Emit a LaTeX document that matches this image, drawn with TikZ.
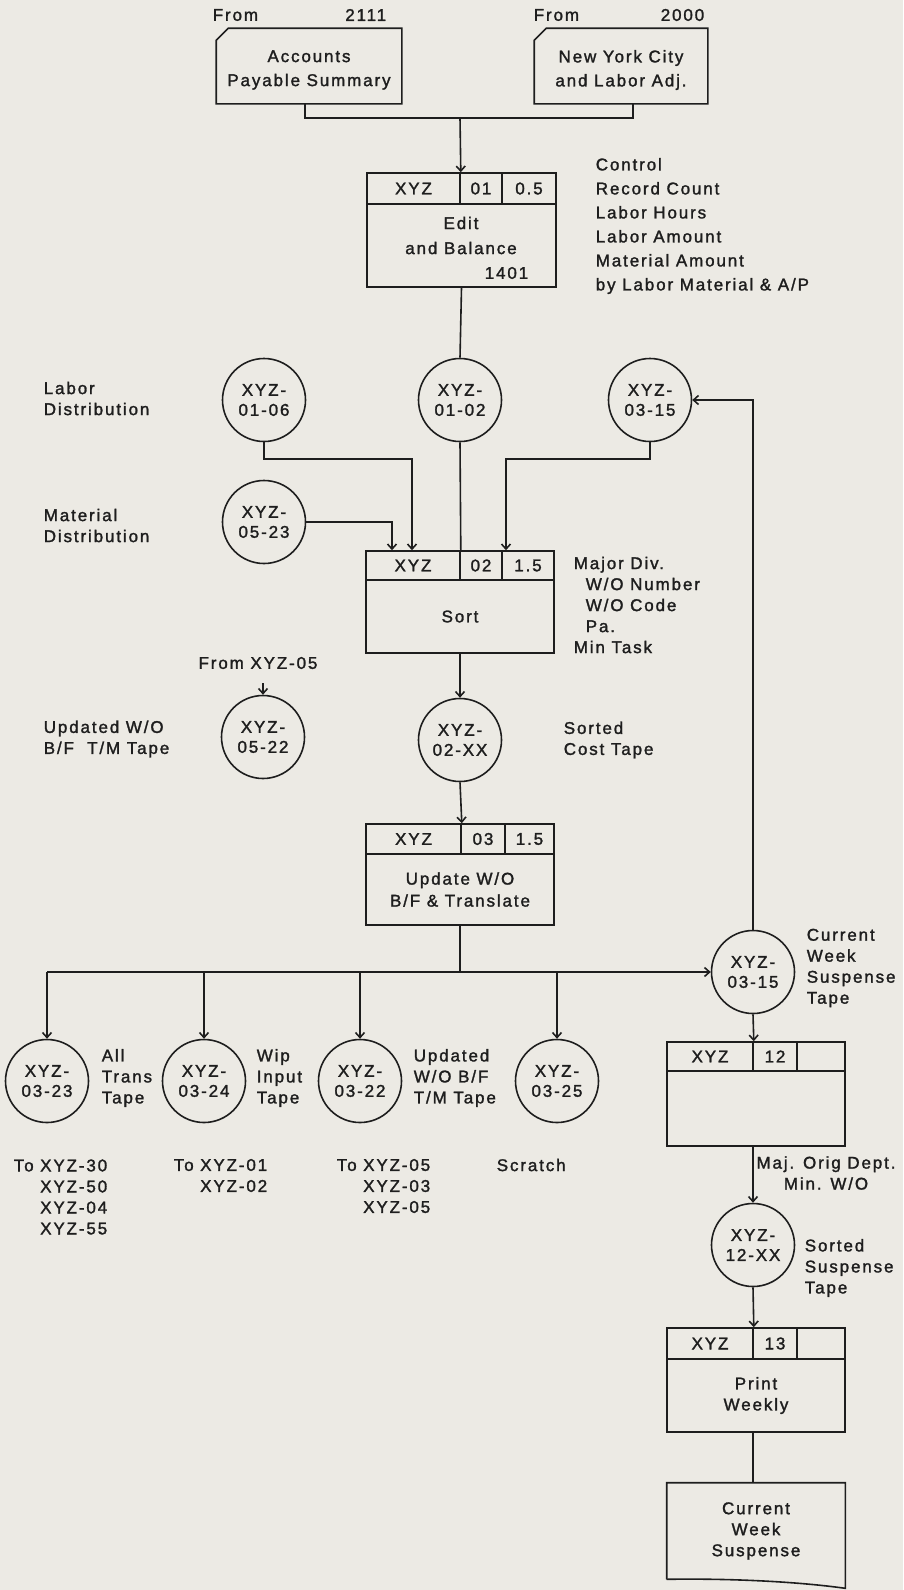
\documentclass[tikz,border=0pt]{standalone}
\usepackage{fontspec}
\setmainfont{Liberation Sans}[LetterSpace=11, FakeBold=1.6]
\usetikzlibrary{arrows.meta}
\definecolor{paper}{RGB}{236,234,228}
\definecolor{ink}{RGB}{30,30,30}
\newcommand\fs{\fontsize{17}{21}\selectfont}
\begin{document}
\begin{tikzpicture}[x=1pt,y=-1pt, line width=1.6pt, draw=ink, text=ink,
  every node/.style={font=\fs, inner sep=0pt},
  lbl/.style={align=left, anchor=west},
  ctr/.style={align=center},
  tape/.style={circle, draw, minimum size=83pt, align=center, font=\fontsize{17}{20}\selectfont},
  cell/.style={draw, rectangle},
  arr/.style={-{Straight Barb[length=5pt,width=9pt]}}]

\useasboundingbox[fill=paper] (0,0) rectangle (903,1590);

% ---------- cards at the top
\node (c1) at (309,66) [minimum width=184pt, minimum height=74pt] {};
\node (c2) at (621,66) [minimum width=172pt, minimum height=74pt] {};
\draw ([yshift=-12pt]c1.north west) -- ([xshift=12pt]c1.north west) -- (c1.north east) -- (c1.south east) -- (c1.south west) -- cycle;
\draw ([yshift=-12pt]c2.north west) -- ([xshift=12pt]c2.north west) -- (c2.north east) -- (c2.south east) -- (c2.south west) -- cycle;
\node[ctr, font=\fontsize{17}{24}\selectfont] (c1t) at (309,70) {Accounts\\Payable Summary};
\node[ctr, font=\fontsize{17}{24}\selectfont] (c2t) at (621,70) {New York City\\and Labor Adj.};
\node[lbl] (f1) at (212,15) {From};
\node[anchor=east] (n1) at (387,15) {2111};
\node[lbl] (f2) at (533,15) {From};
\node[anchor=east] (n2) at (705,15) {2000};

% ---------- box 1
\node[cell, minimum width=93pt, minimum height=31pt] (b1x) at (413.5,188.5) {XYZ};
\node[cell, minimum width=42pt, minimum height=31pt] (b1n) at (481,188.5) {01};
\node[cell, minimum width=54pt, minimum height=31pt] (b1t) at (529,188.5) {0.5};
\node[cell, minimum width=189pt, minimum height=83pt] (b1) at (461.5,245.5) {};
\node[ctr, font=\fontsize{17}{25}\selectfont] (b1txt) at (461,235.5) {Edit\\and Balance};
\node[anchor=east] (b1no) at (529,273) {1401};
\node[lbl, font=\fontsize{17}{24}\selectfont] (ctl) at (595,226) {Control\\Record Count\\Labor Hours\\Labor Amount\\Material Amount\\by Labor Material \& A/P};

\coordinate (jn) at (460,118);
\coordinate (c2s) at ([xshift=12pt]c2.south);
\draw ([xshift=-4pt]c1.south) |- (c2s |- jn) -- (c2s);
\draw[arr] (jn) -- (b1x.north east);

% ---------- first row of tapes
\node[tape] (t0106) at (264,400) {XYZ-\\01-06};
\node[tape] (t0102) at (460,400) {XYZ-\\01-02};
\node[tape] (t0315a) at (650,400) {XYZ-\\03-15};
\node[tape] (t0523) at (264,522) {XYZ-\\05-23};
\node[lbl] (ld) at (43,398.5) {Labor\\Distribution};
\node[lbl] (md) at (43,525.5) {Material\\Distribution};

% ---------- sort box
\node[cell, minimum width=94pt, minimum height=29pt] (b2x) at (413,565.5) {XYZ};
\node[cell, minimum width=42pt, minimum height=29pt] (b2n) at (481,565.5) {02};
\node[cell, minimum width=52pt, minimum height=29pt] (b2t) at (528,565.5) {1.5};
\node[cell, minimum width=188pt, minimum height=73pt] (b2) at (460,616.5) {Sort};
\node[lbl] (mj) at (573,605) {Major Div.\\\hspace*{12pt}W/O Number\\\hspace*{12pt}W/O Code\\\hspace*{12pt}Pa.\\Min Task};

\draw (b1.south) -- (t0102.north);
\draw (t0102.south) -- (b2x.north east);
\coordinate (k1) at (412,459);
\coordinate (k2) at (392,522);
\coordinate (k3) at (506,459);
\draw[arr] (t0106.south) |- (k1) -- (k1 |- b2x.north);
\draw[arr] (t0523.east) -- (k2) -- (k2 |- b2x.north);
\draw[arr] (t0315a.south) |- (k3) -- (k3 |- b2t.north);

% ---------- second row
\node (fx) at (258,663) {From XYZ-05};
\node[tape] (t0522) at (263,737) {XYZ-\\05-22};
\node[tape] (t02xx) at (460,740) {XYZ-\\02-XX};
\node[lbl] (uw) at (43,739) {Updated W/O\\B/F\ \ T/M Tape};
\node[lbl] (sc) at (563,740) {Sorted\\Cost Tape};
\coordinate (fx5) at (263,683);
\draw[arr] (fx5) -- (t0522.north);
\draw[arr] (b2.south) -- (t02xx.north);

% ---------- box 3
\node[cell, minimum width=95pt, minimum height=30pt] (b3x) at (413.5,839) {XYZ};
\node[cell, minimum width=44pt, minimum height=30pt] (b3n) at (483,839) {03};
\node[cell, minimum width=49pt, minimum height=30pt] (b3t) at (529.5,839) {1.5};
\node[cell, minimum width=188pt, minimum height=71pt, align=center, font=\fontsize{17}{22}\selectfont] (b3) at (460,889.5) {Update W/O\\B/F \& Translate};
\draw[arr] (t02xx.south) -- (b3x.north east);

% ---------- distribution row
\node[tape] (t0315b) at (753,972) {XYZ-\\03-15};
\node[tape] (t0323) at (47,1081) {XYZ-\\03-23};
\node[tape] (t0324) at (204,1081) {XYZ-\\03-24};
\node[tape] (t0322) at (360,1081) {XYZ-\\03-22};
\node[tape] (t0325) at (557,1081) {XYZ-\\03-25};
\node[lbl] (cw) at (806,968) {Current\\Week\\Suspense\\Tape};
\node[lbl] (at) at (101,1078) {All\\Trans\\Tape};
\node[lbl] (wi) at (256,1078) {Wip\\Input\\Tape};
\node[lbl] (ut) at (413,1078) {Updated\\W/O B/F\\T/M Tape};
\node[lbl] (to1) at (13,1197) {To XYZ-30\\\phantom{To }XYZ-50\\\phantom{To }XYZ-04\\\phantom{To }XYZ-55};
\node[lbl] (to2) at (173,1175.5) {To XYZ-01\\\phantom{To }XYZ-02};
\node[lbl] (to3) at (336,1186) {To XYZ-05\\\phantom{To }XYZ-03\\\phantom{To }XYZ-05};
\node[lbl] (scr) at (496,1165) {Scratch};

\draw (b3.south) -- (b3.south |- t0315b.west);
\draw[arr] (t0323.north |- t0315b.west) -- (t0315b.west);
\draw[arr] (t0323.north |- t0315b.west) -- (t0323.north);
\draw[arr] (t0324.north |- t0315b.west) -- (t0324.north);
\draw[arr] (t0322.north |- t0315b.west) -- (t0322.north);
\draw[arr] (t0325.north |- t0315b.west) -- (t0325.north);
\draw[arr] (t0315b.north) |- (t0315a.east);

% ---------- box 12
\node[cell, minimum width=86pt, minimum height=29pt] (b12x) at (710,1056.5) {XYZ};
\node[cell, minimum width=44pt, minimum height=29pt] (b12n) at (775,1056.5) {12};
\node[cell, minimum width=48pt, minimum height=29pt] (b12t) at (821,1056.5) {};
\node[cell, minimum width=178pt, minimum height=75pt] (b12) at (756,1108.5) {};
\draw[arr] (t0315b.south) -- (b12x.north east);
\node[ctr] (mo) at (826,1173) {Maj. Orig Dept.\\Min. W/O};

\node[tape] (t12xx) at (753,1245) {XYZ-\\12-XX};
\node[lbl] (ss) at (804,1268) {Sorted\\Suspense\\Tape};
\draw[arr] (b12.south -| t12xx) -- (t12xx.north);

% ---------- box 13
\node[cell, minimum width=86pt, minimum height=31pt] (b13x) at (710,1343.5) {XYZ};
\node[cell, minimum width=44pt, minimum height=31pt] (b13n) at (775,1343.5) {13};
\node[cell, minimum width=48pt, minimum height=31pt] (b13t) at (821,1343.5) {};
\node[cell, minimum width=178pt, minimum height=73pt, align=center] (b13) at (756,1395.5) {Print\\Weekly};
\draw[arr] (t12xx.south) -- (b13x.north east);

% ---------- document
\node[align=center] (doc) at (756,1531) [minimum width=177pt, minimum height=95pt] {Current\\Week\\Suspense};
\draw (doc.south west) -- (doc.north west) -- (doc.north east) -- ([yshift=-9pt]doc.south east)
  .. controls ([xshift=-50pt,yshift=-2pt]doc.south east) and ([xshift=60pt,yshift=1pt]doc.south west) .. (doc.south west);
\draw (b13.south -| t12xx) -- (doc.north -| t12xx);
\end{tikzpicture}
\end{document}
